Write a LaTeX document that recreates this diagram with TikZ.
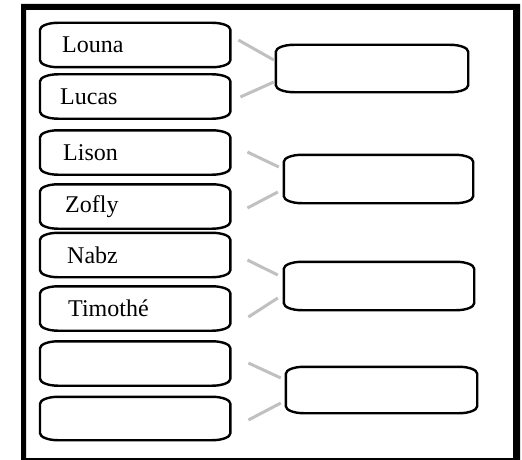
\documentclass[tikz,border=0pt]{standalone}
\usepackage{fontspec}
\setmainfont{Liberation Serif}
\usetikzlibrary{calc}
\definecolor{conngray}{RGB}{192,192,192}
\tikzset{
  namebox/.style={draw=none, anchor=west, minimum width=190pt, minimum height=44pt,
    text width=150pt, inner xsep=20pt, inner ysep=0pt, align=left,
    font=\fontsize{24}{28}\selectfont},
  pairbox/.style={draw=none, minimum width=191pt, minimum height=47pt, inner sep=0pt},
  boxline/.style={line width=2.4pt, black},
  conn/.style={line width=3pt, conngray},
}
\newcommand\ovbox[1]{%
  \draw[boxline] ([yshift=-7pt]#1.north west)
    arc[start angle=180,end angle=90,x radius=18pt,y radius=7pt]
    -- ([xshift=-18pt]#1.north east)
    arc[start angle=90,end angle=0,x radius=18pt,y radius=7pt]
    -- ([yshift=7pt]#1.south east)
    arc[start angle=0,end angle=-90,x radius=18pt,y radius=7pt]
    -- ([xshift=18pt]#1.south west)
    arc[start angle=270,end angle=180,x radius=18pt,y radius=7pt]
    -- cycle;}
\begin{document}
\begin{tikzpicture}[x=1pt,y=-1pt]
\useasboundingbox (0,0) rectangle (522,460);
% frame
\fill[black,even odd rule] (21,4) rectangle (520,460) (26,10) rectangle (513,458);
% left boxes
\node[namebox] (louna) at (40,45) {\hspace*{2pt}Louna};
\node[namebox] (lucas) at (40,96.5) {Lucas};
\node[namebox] (lison) at (40,152.5) {\hspace*{3pt}Lison};
\node[namebox] (zofly) at (40,206.5) {\hspace*{5pt}Zofly};
\node[namebox] (nabz) at (40,255) {\hspace*{7pt}Nabz};
\node[namebox] (timothe) at (40,308.5) {\hspace*{8pt}Timothé};
\node[namebox] (e1) at (40,363.5) {};
\node[namebox, minimum height=43pt] (e2) at (40,418.5) {};
% right boxes
\node[pairbox, minimum width=192pt] (r1) at (372,68.5) {};
\node[pairbox, minimum width=189pt, minimum height=48pt] (r2) at (378.5,179) {};
\node[pairbox, minimum width=190pt, minimum height=48pt] (r3) at (379,286) {};
\node[pairbox, minimum width=191pt, minimum height=46pt] (r4) at (381.5,390) {};
\foreach \n in {louna,lucas,lison,zofly,nabz,timothe,e1,e2,r1,r2,r3,r4} {\ovbox{\n}}
% connectors
\draw[conn] ($(louna.east)+(8,-5)$) -- ($(r1.west)+(-2,-8.5)$);
\draw[conn] ($(lucas.east)+(10,0.5)$) -- ($(r1.west)+(-2,13.5)$);
\draw[conn] ($(lison.east)+(17,-0.5)$) -- ($(r2.west)+(-5,-12)$);
\draw[conn] ($(zofly.east)+(17,1.5)$) -- ($(r2.west)+(-6,13)$);
\draw[conn] ($(nabz.east)+(17,5)$) -- ($(r3.west)+(-6,-11)$);
\draw[conn] ($(timothe.east)+(18,8.5)$) -- ($(r3.west)+(-6,12)$);
\draw[conn] ($(e1.east)+(18,-0.5)$) -- ($(r4.west)+(-5,-12)$);
\draw[conn] ($(e2.east)+(18,1.5)$) -- ($(r4.west)+(-5,13)$);
\end{tikzpicture}
\end{document}
